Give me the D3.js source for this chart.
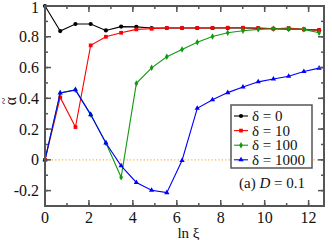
<!DOCTYPE html>
<html>
<head>
<meta charset="utf-8">
<script src="https://cdn.jsdelivr.net/npm/d3@7"></script>
<style>
  body { margin: 0; background: #fff; }
  text { font-family: "Liberation Serif", "DejaVu Serif", serif; fill: #111; }
</style>
</head>
<body>
<div id="chart"></div>
<script>
// x positions are ln(2^k), k = 0..18
const steps = d3.range(0, 19)
const lnXi = steps.map(k => k * Math.LN2)

const delta0 = [1, 0.837, 0.883, 0.883, 0.841, 0.866, 0.864, 0.857, 0.857, 0.857, 0.857, 0.857, 0.857, 0.857, 0.855, 0.853, 0.85, 0.848, 0.843]
const delta10 = [0, 0.406, 0.213, 0.744, 0.80, 0.826, 0.848, 0.852, 0.857, 0.857, 0.857, 0.857, 0.859, 0.859, 0.857, 0.852, 0.857, 0.848, 0.843]
const delta100 = [0, 0.435, 0.455, 0.294, 0.109, -0.113, 0.497, 0.598, 0.67, 0.717, 0.765, 0.802, 0.826, 0.839, 0.848, 0.852, 0.85, 0.848, 0.826]
const delta1000 = [0, 0.435, 0.455, 0.294, 0.109, -0.039, -0.147, -0.198, -0.213, -0.004, 0.335, 0.391, 0.437, 0.474, 0.507, 0.526, 0.543, 0.574, 0.596]

const seriesNames = ["δ = 0", "δ = 10", "δ = 100", "δ = 1000"]
const seriesColors = ["#000000", "#ff0000", "#109a10", "#0000ff"]
const seriesMarks = ["circle", "square", "diamond", "triangle"]
const seriesValues = [delta0, delta10, delta100, delta1000]

const xTicks = [0, 2, 4, 6, 8, 10, 12]
const yTicks = [-0.2, 0, 0.2, 0.4, 0.6, 0.8, 1]

const width = 332, height = 240
const margin = { left: 45, right: 8, top: 6, bottom: 34 }

const svg = d3.select("#chart").append("svg")
    .attr("width", width)
    .attr("height", height)

const x = d3.scaleLinear().domain([0, 12.7]).range([margin.left, width - margin.right])
const y = d3.scaleLinear().domain([-0.3, 1]).range([height - margin.bottom, margin.top])

const frameColor = "#555"

// zero reference line
svg.append("line")
    .attr("x1", x(0)).attr("x2", x(12.7))
    .attr("y1", y(0)).attr("y2", y(0))
    .attr("stroke", "#f5b041")
    .attr("stroke-width", 1.2)
    .attr("stroke-dasharray", "1.2,2.2")

const line = d3.line().x(d => x(d[0])).y(d => y(d[1]))

const symbolTypes = {
    circle: d3.symbolCircle,
    square: d3.symbolSquare,
    diamond: d3.symbolDiamond,
    triangle: d3.symbolTriangle
}
const symbolSizes = { circle: 14, square: 14, diamond: 12, triangle: 12 }

seriesValues.forEach((vals, i) => {
    const pts = lnXi.map((v, j) => [v, vals[j]])
    const g = svg.append("g")
    g.append("path")
        .datum(pts)
        .attr("d", line)
        .attr("fill", "none")
        .attr("stroke", seriesColors[i])
        .attr("stroke-width", 1.1)
    g.selectAll("path.mark").data(pts).enter().append("path")
        .attr("class", "mark")
        .attr("d", d3.symbol().type(symbolTypes[seriesMarks[i]]).size(symbolSizes[seriesMarks[i]]))
        .attr("transform", d => "translate(" + x(d[0]) + "," + y(d[1]) + ")")
        .attr("fill", seriesColors[i])
})

// axes with inward ticks on all four sides
const axes = svg.append("g")
const xMinor = d3.range(0, 13)
const yMinor = d3.range(-3, 11).map(v => v / 10)

function tickLines(vals, scale, horizontal, len) {
    vals.forEach(v => {
        const p = scale(v)
        if (horizontal) {
            axes.append("line").attr("x1", p).attr("x2", p).attr("y1", y.range()[0]).attr("y2", y.range()[0] - len)
            axes.append("line").attr("x1", p).attr("x2", p).attr("y1", y.range()[1]).attr("y2", y.range()[1] + len)
        } else {
            axes.append("line").attr("y1", p).attr("y2", p).attr("x1", x.range()[0]).attr("x2", x.range()[0] + len)
            axes.append("line").attr("y1", p).attr("y2", p).attr("x1", x.range()[1]).attr("x2", x.range()[1] - len)
        }
    })
}
tickLines(xMinor, x, true, 3)
tickLines(xTicks, x, true, 6)
tickLines(yMinor, y, false, 3)
tickLines(yTicks, y, false, 6)
axes.selectAll("line").attr("stroke", frameColor).attr("stroke-width", 1.5)

axes.append("rect")
    .attr("x", x.range()[0]).attr("y", y.range()[1])
    .attr("width", x.range()[1] - x.range()[0])
    .attr("height", y.range()[0] - y.range()[1])
    .attr("fill", "none")
    .attr("stroke", frameColor)
    .attr("stroke-width", 2)

svg.selectAll("text.xt").data(xTicks).enter().append("text")
    .attr("x", d => x(d)).attr("y", height - margin.bottom + 17)
    .attr("text-anchor", "middle")
    .attr("font-size", 16)
    .text(d => d)

svg.selectAll("text.yt").data(yTicks).enter().append("text")
    .attr("x", margin.left - 6).attr("y", d => y(d) + 5.5)
    .attr("text-anchor", "end")
    .attr("font-size", 16)
    .text(d => d)
    .attr("dy", d => d === 1 ? 1.5 : 0)

svg.append("text")
    .attr("x", (x.range()[0] + x.range()[1]) / 2 + 4)
    .attr("y", height - 2)
    .attr("text-anchor", "middle")
    .attr("font-size", 15)
    .text("ln ξ")

// y label: alpha with a tilde over it, rotated
const yl = svg.append("g").attr("transform", "translate(16,101) rotate(-90)")
yl.append("text")
    .attr("text-anchor", "middle")
    .attr("font-size", 16)
    .text("α")
yl.append("text")
    .attr("y", -8)
    .attr("text-anchor", "middle")
    .attr("font-size", 12)
    .text("~")

// legend
const lg = svg.append("g").attr("transform", "translate(231,105)")
lg.append("rect")
    .attr("width", 81).attr("height", 63)
    .attr("fill", "#fff")
    .attr("stroke", frameColor)
    .attr("stroke-width", 1.5)

seriesNames.forEach((name, i) => {
    const cy = 11 + i * 14.6
    lg.append("line")
        .attr("x1", 3).attr("x2", 17)
        .attr("y1", cy).attr("y2", cy)
        .attr("stroke", seriesColors[i]).attr("stroke-width", 1.1)
    lg.append("path")
        .attr("d", d3.symbol().type(symbolTypes[seriesMarks[i]]).size(symbolSizes[seriesMarks[i]]))
        .attr("transform", "translate(10," + cy + ")")
        .attr("fill", seriesColors[i])
    lg.append("text")
        .attr("x", 21).attr("y", cy + 5)
        .attr("font-size", 15)
        .text(name)
})

const note = svg.append("text")
    .attr("x", 272).attr("y", 188)
    .attr("text-anchor", "middle")
    .attr("font-size", 15)
note.append("tspan").text("(a) ")
note.append("tspan").attr("font-style", "italic").text("D")
note.append("tspan").text(" = 0.1")
</script>
</body>
</html>
